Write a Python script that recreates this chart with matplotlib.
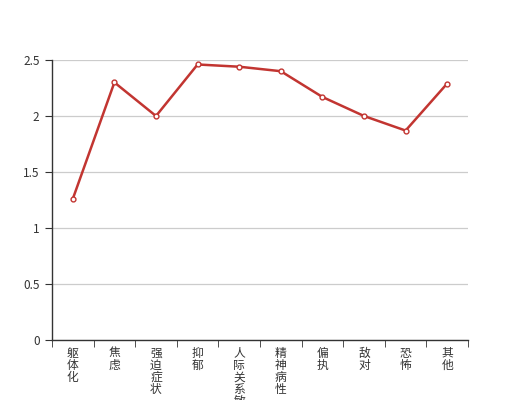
import matplotlib
matplotlib.use("Agg")
import matplotlib.pyplot as plt
import numpy as np

plt.rcParams['font.family'] = ['Noto Sans CJK SC', 'DejaVu Sans']

categories = ["躯体化", "焦虑", "强迫症状", "抑郁", "人际关系敏感",
              "精神病性", "偏执", "敌对", "恐怖", "其他"]
values = [1.26, 2.30, 2.00, 2.46, 2.44, 2.40, 2.17, 2.00, 1.87, 2.29]
y_ticks = [0, 0.5, 1, 1.5, 2, 2.5]

fig = plt.figure(figsize=(5.2, 4.0), dpi=100)
ax = fig.add_axes([0.1, 0.15, 0.8, 0.70])

x = np.arange(len(categories))
ax.plot(x, values, color="#c23531", linewidth=1.8, marker="o", markersize=3.5,
        markerfacecolor="white", markeredgecolor="#c23531", markeredgewidth=1, zorder=3)

ax.set_xlim(-0.5, len(categories) - 0.5)
ax.set_ylim(0, 2.5)
ax.set_yticks(y_ticks)
ax.set_yticklabels(["0", "0.5", "1", "1.5", "2", "2.5"])
ax.yaxis.grid(True, color="#cccccc", linewidth=0.9)
ax.set_axisbelow(True)

# category labels, one character per row (vertical text)
ax.set_xticks(x)
ax.set_xticklabels([])
for i, name in enumerate(categories):
    for k, ch in enumerate(name):
        ax.annotate(ch, xy=(i, 0), xycoords="data",
                    xytext=(0, -13 - 12 * k), textcoords="offset pixels",
                    ha="center", va="center", fontsize=8.5, color="#333333",
                    annotation_clip=False)

ax.set_xticks(np.arange(len(categories) + 1) - 0.5, minor=True)
ax.tick_params(axis="x", which="major", length=0)
ax.tick_params(axis="x", which="minor", length=5, color="#333333", direction="out")
ax.tick_params(axis="y", length=5, color="#333333", labelsize=8.5, labelcolor="#333333", pad=4)

for s in ["top", "right"]:
    ax.spines[s].set_visible(False)
for s in ["left", "bottom"]:
    ax.spines[s].set_color("#333333")
    ax.spines[s].set_linewidth(1)

fig.savefig("out.png", dpi=100)
